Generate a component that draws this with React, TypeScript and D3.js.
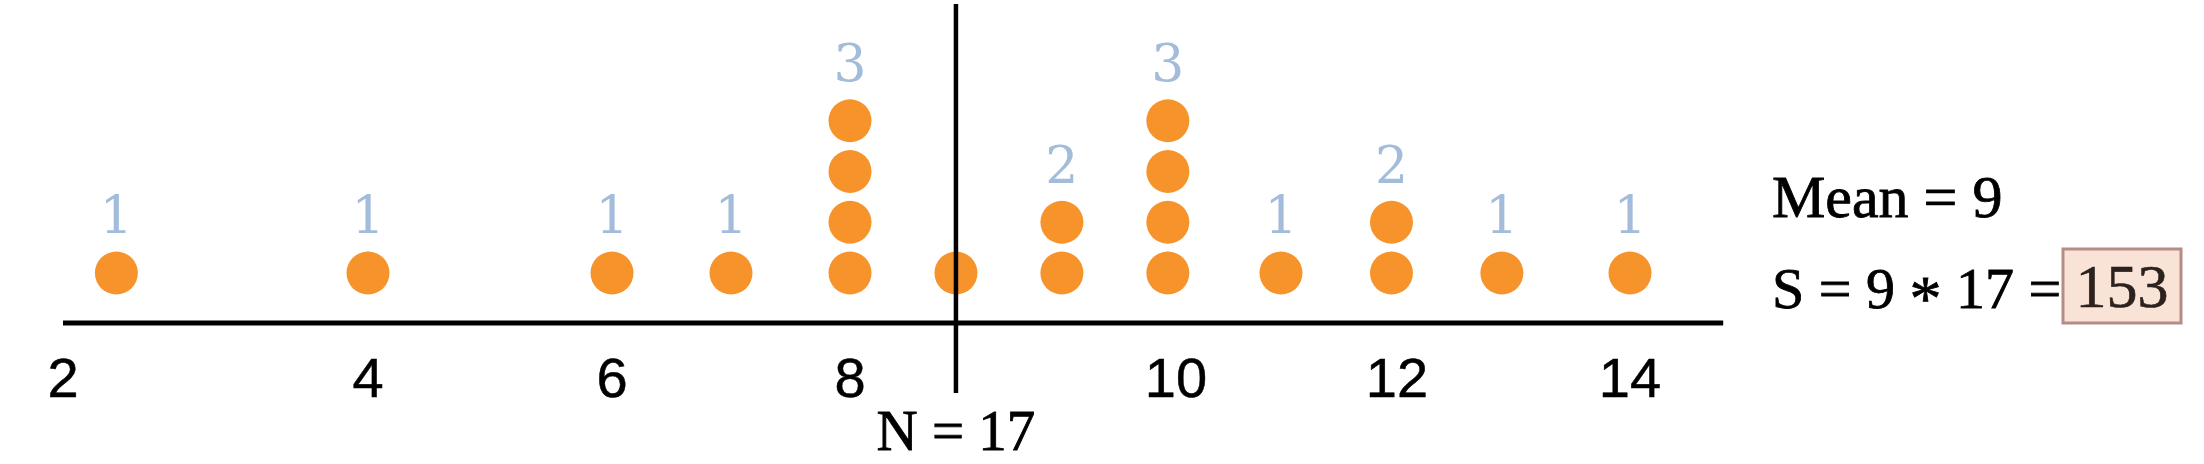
import * as d3 from "d3";
import { useEffect, useRef } from "react";

// values
const tickValues = [2, 4, 6, 8, 10, 12, 14];
const columnValues = [2.35, 4, 6, 7, 8, 8.65, 9.3, 9.95, 10.95, 11.95, 12.9, 14];
const dotCounts = [1, 1, 1, 1, 4, 1, 2, 4, 1, 2, 1, 1];
const countLabels = ["1", "1", "1", "1", "3", "", "2", "3", "1", "2", "1", "1"];
const meanLineAt = 8.65;
const meanValue = 9;
const sampleSize = 17;
const total = 153;

export default function App() {
  const svgRef = useRef<SVGSVGElement | null>(null);

  useEffect(() => {
    if (!svgRef.current) return;
    document.body.style.margin = "0";

    const svg = d3.select(svgRef.current);
    svg.selectAll("*").remove();

    const width = 2204;
    const height = 464;
    svg.attr("width", width).attr("height", height);

    // the hand drawn axis is not evenly spaced, so the scale is piecewise
    const x = d3
      .scaleLinear()
      .domain(tickValues)
      .range([63, 368, 612, 850, 1176, 1397, 1630]);

    const y = d3.scaleLinear().domain([0, 4]).range([273, 70]);

    const axisY = 323;
    const serif = "'Liberation Serif', 'Times New Roman', serif";
    const sans = "'Liberation Sans', Arial, sans-serif";

    // x axis line
    svg.append("line")
      .attr("x1", x(2))
      .attr("x2", x(14.8))
      .attr("y1", axisY)
      .attr("y2", axisY)
      .attr("stroke", "#000")
      .attr("stroke-width", 5);

    // tick labels
    svg.append("g")
      .selectAll("text")
      .data(tickValues)
      .enter()
      .append("text")
      .attr("x", d => x(d))
      .attr("y", 397)
      .attr("text-anchor", "middle")
      .attr("font-family", sans)
      .attr("font-size", 56)
      .attr("fill", "#000")
      .attr("stroke", "#000")
      .attr("stroke-width", 0.5)
      .text(d => d);

    // stacked dots
    const dots = columnValues.flatMap((v, i) =>
      d3.range(dotCounts[i]).map(k => ({ v, k }))
    );
    svg.append("g")
      .selectAll("circle")
      .data(dots)
      .enter()
      .append("circle")
      .attr("cx", d => x(d.v))
      .attr("cy", d => y(d.k))
      .attr("r", 21.5)
      .attr("fill", "#F7932B");

    // count labels above each stack
    svg.append("g")
      .selectAll("text")
      .data(columnValues.map((v, i) => ({ v, n: dotCounts[i], label: countLabels[i] })))
      .enter()
      .append("text")
      .attr("x", d => x(d.v))
      .attr("y", d => y(d.n) + 11)
      .attr("text-anchor", "middle")
      .attr("font-family", "'DejaVu Serif', serif")
      .attr("font-size", 52)
      .attr("fill", "#A2BCDA")
      .text(d => d.label);

    // mean line
    svg.append("line")
      .attr("x1", x(meanLineAt))
      .attr("x2", x(meanLineAt))
      .attr("y1", 4)
      .attr("y2", 393)
      .attr("stroke", "#000")
      .attr("stroke-width", 4.5);

    svg.append("text")
      .attr("x", x(meanLineAt))
      .attr("y", 450)
      .attr("text-anchor", "middle")
      .attr("font-family", serif)
      .attr("font-size", 57)
      .attr("fill", "#000")
      .attr("stroke", "#000")
      .attr("stroke-width", 0.8)
      .text(`N = ${sampleSize}`);

    // right side notes
    svg.append("text")
      .attr("x", 1772)
      .attr("y", 217)
      .attr("font-family", serif)
      .attr("font-size", 60)
      .attr("fill", "#000")
      .attr("stroke", "#000")
      .attr("stroke-width", 0.8)
      .text(`Mean = ${meanValue}`);

    const sLine = svg.append("text")
      .attr("x", 1772)
      .attr("y", 308)
      .attr("font-family", serif)
      .attr("font-size", 58)
      .attr("fill", "#000")
      .attr("stroke", "#000")
      .attr("stroke-width", 0.8);
    sLine.append("tspan").text(`S = ${meanValue} `);
    sLine.append("tspan").attr("dy", 12).attr("font-size", 64).text("*");
    sLine.append("tspan").attr("dy", -12).text(` ${sampleSize} =`);

    svg.append("rect")
      .attr("x", 2063)
      .attr("y", 249)
      .attr("width", 118)
      .attr("height", 74)
      .attr("fill", "#F9E2D6")
      .attr("stroke", "#B88C86")
      .attr("stroke-width", 3);

    svg.append("text")
      .attr("x", 2122)
      .attr("y", 307)
      .attr("text-anchor", "middle")
      .attr("font-family", serif)
      .attr("font-size", 62)
      .attr("fill", "#2B211D")
      .attr("stroke", "#2B211D")
      .attr("stroke-width", 0.6)
      .text(total);
  }, []);

  return (
    <div>
      <svg ref={svgRef}></svg>
    </div>
  );
}
